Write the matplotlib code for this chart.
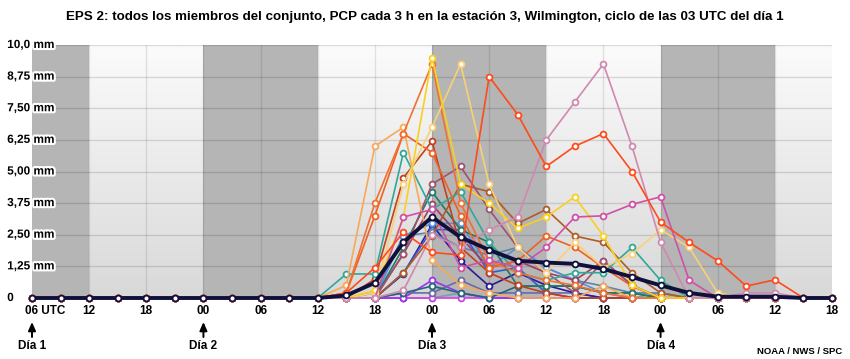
import numpy as np
import matplotlib as mpl
mpl.use('Agg')
import matplotlib.pyplot as plt
import matplotlib.patheffects as pe
from matplotlib.colors import LinearSegmentedColormap
from matplotlib.transforms import ScaledTranslation

plt.rcParams['font.family'] = ['Liberation Sans', 'DejaVu Sans']

# pasos de 3 h desde las 06 UTC del dia 1 hasta las 18 UTC del dia 4
tick_labels = ['06', '12', '18', '00', '06', '12', '18', '00', '06', '12', '18', '00', '06', '12', '18']
y_labels = ['0', '1,25 mm', '2,50 mm', '3,75 mm', '5,00 mm', '6,25 mm', '7,50 mm', '8,75 mm', '10,0 mm']
y_ticks = [0, 1.25, 2.5, 3.75, 5.0, 6.25, 7.5, 8.75, 10.0]
day_names = ['Día 1', 'Día 2', 'Día 3', 'Día 4']
day_steps = [0, 6, 14, 22]
night_bands = [(0, 2), (6, 10), (14, 18), (22, 26)]

# miembros del conjunto (mm cada 3 h)
m_red = [0, 0, 0, 0, 0, 0, 0, 0, 0, 0, 0, 0.2, 1.2, 2.6, 1.8, 1.7, 8.75, 7.25, 5.2, 6.0, 6.5, 5.0, 3.0, 2.2, 1.47, 0.47, 0.72, 0, 0]
m_mauve = [0, 0, 0, 0, 0, 0, 0, 0, 0, 0, 0, 0, 0, 0.3, 2.5, 2.0, 2.7, 3.2, 6.25, 7.75, 9.25, 6.0, 2.2, 0, 0, 0.2, 0.2, 0, 0]
m_magenta = [0, 0, 0, 0, 0, 0, 0, 0, 0, 0, 0, 0, 0, 3.2, 3.5, 1.2, 1.5, 1.2, 2.0, 3.2, 3.25, 3.7, 4.0, 0.7, 0, 0, 0, 0, 0]
m_yellow = [0, 0, 0, 0, 0, 0, 0, 0, 0, 0, 0, 0, 0.3, 3.2, 9.5, 4.5, 3.75, 2.75, 3.2, 4.0, 2.45, 0.5, 0, 0, 0, 0, 0, 0, 0]
m_tan = [0, 0, 0, 0, 0, 0, 0, 0, 0, 0, 0, 0, 0.2, 4.5, 6.75, 9.25, 4.5, 2.0, 1.0, 2.2, 1.2, 1.75, 2.7, 2.0, 0.2, 0, 0, 0, 0]
m_orange = [0, 0, 0, 0, 0, 0, 0, 0, 0, 0, 0, 0.2, 3.75, 6.5, 9.25, 3.75, 1.47, 1.0, 0.7, 0.5, 0.2, 0, 0, 0, 0, 0, 0, 0, 0]
m_lorange = [0, 0, 0, 0, 0, 0, 0, 0, 0, 0, 0, 0.5, 6.0, 6.75, 1.5, 0.5, 0.2, 0, 0, 0, 0.47, 0, 0, 0, 0, 0, 0, 0, 0]
m_orange2 = [0, 0, 0, 0, 0, 0, 0, 0, 0, 0, 0, 0.2, 3.25, 6.5, 5.75, 3.25, 1.2, 1.47, 2.45, 2.0, 1.2, 0.47, 0, 0, 0, 0, 0, 0, 0]
m_dred = [0, 0, 0, 0, 0, 0, 0, 0, 0, 0, 0, 0, 0.75, 4.75, 6.2, 2.0, 1.0, 0.5, 0.2, 0, 0, 0, 0, 0, 0, 0, 0, 0, 0]
m_teal = [0, 0, 0, 0, 0, 0, 0, 0, 0, 0, 0, 0.95, 0.95, 5.75, 3.5, 4.2, 2.2, 1.0, 0.7, 1.0, 1.0, 2.0, 0.7, 0, 0, 0, 0, 0, 0]
m_mbrown = [0, 0, 0, 0, 0, 0, 0, 0, 0, 0, 0, 0, 0, 1.75, 4.5, 5.2, 3.5, 2.0, 1.0, 0.2, 1.47, 0.5, 0, 0, 0, 0, 0, 0, 0]
m_dteal = [0, 0, 0, 0, 0, 0, 0, 0, 0, 0, 0, 0, 0, 2.0, 4.2, 2.7, 2.2, 0.47, 0.47, 0.47, 0.2, 0.2, 0, 0, 0, 0, 0, 0, 0]
m_brown = [0, 0, 0, 0, 0, 0, 0, 0, 0, 0, 0, 0, 0, 1.0, 2.45, 4.5, 4.2, 2.95, 3.5, 2.45, 2.2, 1.0, 0.2, 0, 0, 0, 0, 0, 0]
m_lblue = [0, 0, 0, 0, 0, 0, 0, 0, 0, 0, 0, 0, 0, 2.45, 2.95, 2.95, 1.2, 2.0, 1.2, 0.7, 0.2, 0, 0, 0, 0, 0, 0, 0, 0]
m_blue = [0, 0, 0, 0, 0, 0, 0, 0, 0, 0, 0, 0, 0, 1.0, 2.7, 2.7, 1.0, 1.2, 0.2, 0, 0, 0, 0, 0, 0, 0, 0, 0, 0]
m_indigo = [0, 0, 0, 0, 0, 0, 0, 0, 0, 0, 0, 0, 0, 0.95, 2.9, 1.47, 0.47, 1.0, 0.5, 0.2, 0, 0, 0, 0, 0, 0, 0, 0, 0]
m_bgray = [0, 0, 0, 0, 0, 0, 0, 0, 0, 0, 0, 0, 0.2, 2.45, 2.6, 2.0, 1.7, 2.0, 1.2, 0.7, 0.47, 0.2, 0.2, 0, 0, 0, 0, 0, 0]
m_slate = [0, 0, 0, 0, 0, 0, 0, 0, 0, 0, 0, 0, 0, 0.2, 0.2, 0.7, 0.2, 0.2, 0.2, 0.2, 0, 0, 0, 0, 0, 0, 0, 0, 0]
m_violet = [0, 0, 0, 0, 0, 0, 0, 0, 0, 0, 0, 0, 0, 0, 0.7, 0.2, 0, 0, 0, 0, 0, 0, 0, 0, 0, 0, 0, 0, 0]
m_pmag = [0, 0, 0, 0, 0, 0, 0, 0, 0, 0, 0, 0, 0, 0, 0, 0, 0, 0, 0, 0, 0, 0, 0, 0, 0, 0, 0, 0, 0]
m_dteal2 = [0, 0, 0, 0, 0, 0, 0, 0, 0, 0, 0, 0, 0, 0.2, 0.47, 0.2, 0, 0.47, 0.47, 0.47, 0.2, 0.2, 0, 0, 0, 0, 0, 0, 0]
m_maroon = [0, 0, 0, 0, 0, 0, 0, 0, 0, 0, 0, 0, 0, 1.75, 3.7, 2.4, 1.2, 1.47, 1.0, 0.7, 1.47, 0.5, 0, 0, 0, 0, 0, 0, 0]
m_gteal = [0, 0, 0, 0, 0, 0, 0, 0, 0, 0, 0, 0, 0, 0, 0, 0.2, 0, 0, 0, 0, 0, 0, 0.2, 0, 0, 0, 0, 0, 0]
mean = [0, 0, 0, 0, 0, 0, 0, 0, 0, 0, 0, 0.1, 0.6, 2.2, 3.2, 2.4, 1.9, 1.47, 1.4, 1.35, 1.15, 0.83, 0.5, 0.2, 0.05, 0.05, 0.05, 0, 0]

members = [
    (m_gteal, '#78a0b0'), (m_pmag, '#d040e8'), (m_violet, '#a030f0'), (m_slate, '#6a6aaa'),
    (m_dteal2, '#206878'), (m_indigo, '#2a1a98'), (m_blue, '#3858d0'), (m_bgray, '#5a86aa'),
    (m_lblue, '#5c8ed8'), (m_maroon, '#a04060'), (m_dteal, '#1f7a68'), (m_brown, '#b05a28'),
    (m_mbrown, '#a05070'), (m_dred, '#c04020'), (m_teal, '#30a898'), (m_orange2, '#f06020'),
    (m_lorange, '#f8a858'), (m_orange, '#f07030'), (m_tan, '#f8d078'), (m_yellow, '#f8d020'),
    (m_magenta, '#d050a8'), (m_mauve, '#d088b0'), (m_red, '#ff4a1c'),
]

fig = plt.figure(figsize=(8.5, 3.59), dpi=100)
ax = fig.add_axes([32 / 850, 61 / 359, 800 / 850, 253 / 359])

# fondo: degradado claro y bandas nocturnas grises
grad = np.linspace(0, 1, 100).reshape(-1, 1)
cmap = LinearSegmentedColormap.from_list('bg', ['#fbfbfb', '#d9d9d9'])
ax.imshow(grad, extent=[0, 28, 0, 10], aspect='auto', cmap=cmap, origin='upper', zorder=0)
for a, b in night_bands:
    ax.axvspan(a, b, color='#b5b5b5', lw=0, zorder=0.5)
for yv in y_ticks[1:]:
    ax.axhline(yv, color='#000000', alpha=0.13, lw=1, zorder=1)
for xv in range(2, 28, 2):
    ax.axvline(xv, color='#000000', alpha=0.1, lw=1, zorder=1)

steps = np.arange(len(mean))
for vals, col in members:
    ax.plot(steps, vals, color=col, lw=1.2, marker='o', ms=4.2, mew=1.3,
            mfc='white', mec=col, zorder=3, clip_on=False)
ax.plot(steps, mean, color='#10103c', lw=2.8, marker='o', ms=4.2, mew=1.3,
        mfc='white', mec='#10103c', zorder=4, clip_on=False)

ax.set_xlim(0, 28)
ax.set_ylim(0, 10)
for s in ax.spines.values():
    s.set_visible(False)
ax.set_yticks([])
ax.set_xticks(range(0, 29, 2))
tick_labels[0] = '06 UTC'
ax.set_xticklabels(tick_labels, fontsize=8.5, fontweight='bold')
ax.tick_params(axis='x', length=0, pad=5)
first = ax.get_xticklabels()[0]
first.set_horizontalalignment('left')
first.set_transform(first.get_transform() + ScaledTranslation(-7 / 100, 0, fig.dpi_scale_trans))

for yv, lab in zip(y_ticks, y_labels):
    ax.text(-0.031, yv, lab, transform=ax.get_yaxis_transform(), ha='left', va='center',
            fontsize=8.5, fontweight='bold', zorder=5,
            path_effects=[pe.withStroke(linewidth=3, foreground='white')])

# flechas y dias
for st, name in zip(day_steps, day_names):
    ax.annotate('', xy=(st, 1 - 322 / 359), xytext=(st, 1 - 337 / 359),
                xycoords=('data', 'figure fraction'), textcoords=('data', 'figure fraction'),
                arrowprops=dict(arrowstyle='-|>,head_length=0.5,head_width=0.22', color='black',
                                lw=1.4, shrinkA=0, shrinkB=0))
    ax.annotate(name, xy=(st, 1 - 346 / 359), xycoords=('data', 'figure fraction'),
                ha='center', va='center', fontsize=8.5, fontweight='bold', annotation_clip=False)

fig.text(0.5, 1 - 17 / 359,
         'EPS 2: todos los miembros del conjunto, PCP cada 3 h en la estación 3, Wilmington, ciclo de las 03 UTC del día 1',
         ha='center', va='center', fontsize=9.6, fontweight='bold')
fig.text(842 / 850, 1 - 352 / 359, 'NOAA / NWS / SPC', ha='right', va='center', fontsize=6.8, fontweight='bold')

plt.savefig('out.png', dpi=100)
